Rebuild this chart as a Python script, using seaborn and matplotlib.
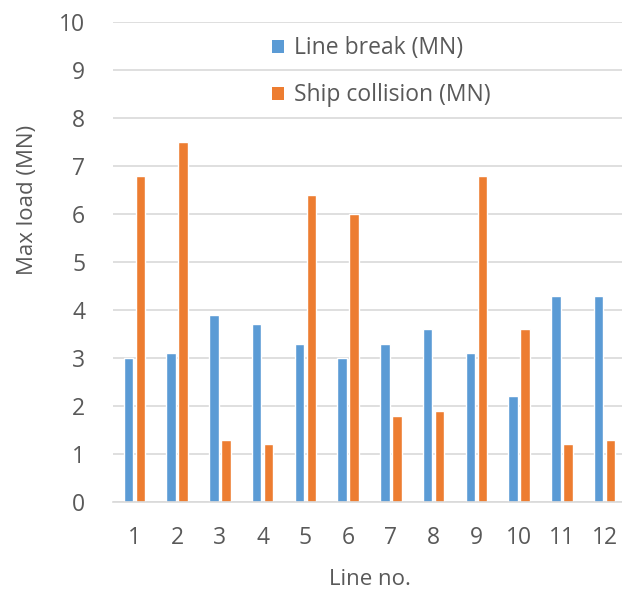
import matplotlib
matplotlib.use("Agg")
import matplotlib.pyplot as plt
from matplotlib.patches import Patch
import seaborn as sns
import pandas as pd

lines = ["1", "2", "3", "4", "5", "6", "7", "8", "9", "10", "11", "12"]
line_break = [3.0, 3.1, 3.9, 3.7, 3.3, 3.0, 3.3, 3.6, 3.1, 2.2, 4.3, 4.3]
ship_collision = [6.8, 7.5, 1.3, 1.2, 6.4, 6.0, 1.8, 1.9, 6.8, 3.6, 1.2, 1.3]
series_names = ["Line break (MN)", "Ship collision (MN)"]
y_ticks = [0, 1, 2, 3, 4, 5, 6, 7, 8, 9, 10]

colors = ["#5B9BD5", "#ED7D31"]
text_color = "#595959"
grid_color = "#D9D9D9"

sns.set_theme(style="white")
plt.rcParams["font.family"] = ["Open Sans", "DejaVu Sans"]

df = pd.DataFrame({
    "line": lines * 2,
    "load": line_break + ship_collision,
    "series": [series_names[0]] * len(lines) + [series_names[1]] * len(lines),
})

fig = plt.figure(figsize=(6.22, 5.93), dpi=100)
ax = fig.add_axes([113 / 622, 91 / 593, 513 / 622, 480 / 593])

sns.barplot(data=df, x="line", y="load", hue="series", order=lines,
            hue_order=series_names, palette=colors, width=0.56, gap=0.2,
            saturation=1, ax=ax, legend=False, errorbar=None)

ax.set_ylim(0, 10)
ax.set_xlim(-0.5, len(lines) - 0.5)
ax.set_yticks(y_ticks)
ax.yaxis.grid(True, color=grid_color, linewidth=1.2)
ax.set_axisbelow(True)
for side in ["top", "right", "left"]:
    ax.spines[side].set_visible(False)
ax.spines["bottom"].set_color(grid_color)
ax.spines["bottom"].set_linewidth(1.2)

ax.tick_params(axis="y", length=0, pad=20, labelsize=16.5, labelcolor=text_color)
ax.tick_params(axis="x", length=0, pad=17, labelsize=16.5, labelcolor=text_color)

ax.set_xlabel("Line no.", fontsize=16, color=text_color, labelpad=14)
ax.set_ylabel("")
fig.text(27 / 622, 1 - 200 / 593, "Max load (MN)", rotation=90, ha="center",
         va="center", fontsize=16, color=text_color)

handles = [Patch(facecolor=c, edgecolor="none") for c in colors]
leg = ax.legend(handles, series_names, loc="upper left",
                bbox_to_anchor=(261 / 622, 1 - 25 / 593), bbox_transform=fig.transFigure,
                frameon=False, fontsize=16.5, labelcolor=text_color,
                handlelength=0.5, handleheight=0.5, handletextpad=0.45,
                labelspacing=1.0, borderpad=0)

fig.savefig("out.png", dpi=100)
